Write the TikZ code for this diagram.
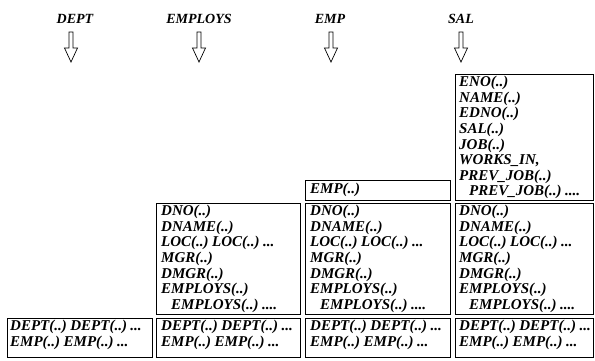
\documentclass[tikz,border=0pt]{standalone}
\usepackage{fontspec}
\setmainfont{Liberation Serif}
\newfontfamily\tf{Liberation Serif}[WordSpace=0.6]
\begin{document}
\begin{tikzpicture}[x=1pt,y=-1pt,
  boxx/.style={draw, line width=0.9pt, anchor=north west, inner sep=0pt},
  txt/.style={anchor=north west, align=left, inner sep=0pt,
    font=\tf\fontsize{15}{15.6}\selectfont\bfseries\itshape},
  lbl/.style={font=\fontsize{14}{16}\selectfont\bfseries\itshape},
  downarrow/.pic={\draw[line width=0.7pt] (-2,0) -- (-2,16) -- (-6.5,16) -- (0,30) -- (6.5,16) -- (2,16) -- (2,0) -- cycle;}
]
\useasboundingbox (0,0) rectangle (595,360);
% labels
\node[lbl] (l1) at (75,19) {DEPT};
\node[lbl] (l2) at (199,19) {EMPLOYS};
\node[lbl] (l3) at (330,19) {EMP};
\node[lbl] (l4) at (461,19) {SAL};
% arrows
\coordinate (a1) at (71,32);
\coordinate (a2) at (199,32);
\coordinate (a3) at (331,32);
\coordinate (a4) at (461,32);
\pic at (a1) {downarrow};
\pic at (a2) {downarrow};
\pic at (a3) {downarrow};
\pic at (a4) {downarrow};
% DEPT column
\node[boxx, minimum width=145pt, minimum height=39pt] (d1) at (7,318) {};
\node[txt] at ([shift={(3,2)}]d1.north west) {DEPT(..) DEPT(..) ...\\EMP(..) EMP(..) ...};
% EMPLOYS column
\node[boxx, minimum width=144pt, minimum height=111pt] (e1) at (156,203) {};
\node[boxx, minimum width=144pt, minimum height=39pt] (e2) at (156,318) {};
\node[txt] at ([shift={(5,2)}]e1.north west) {DNO(..)\\DNAME(..)\\LOC(..) LOC(..) ...\\MGR(..)\\DMGR(..)\\EMPLOYS(..)\\\hspace*{10pt}EMPLOYS(..) ....};
\node[txt] at ([shift={(5,2)}]e2.north west) {DEPT(..) DEPT(..) ...\\EMP(..) EMP(..) ...};
% EMP column
\node[boxx, minimum width=145pt, minimum height=20pt] (m0) at (305,180) {};
\node[boxx, minimum width=145pt, minimum height=111pt] (m1) at (305,203) {};
\node[boxx, minimum width=145pt, minimum height=39pt] (m2) at (305,318) {};
\node[txt] at ([shift={(5,3)}]m0.north west) {EMP(..)};
\node[txt] at ([shift={(5,2)}]m1.north west) {DNO(..)\\DNAME(..)\\LOC(..) LOC(..) ...\\MGR(..)\\DMGR(..)\\EMPLOYS(..)\\\hspace*{10pt}EMPLOYS(..) ....};
\node[txt] at ([shift={(5,2)}]m2.north west) {DEPT(..) DEPT(..) ...\\EMP(..) EMP(..) ...};
% SAL column
\node[boxx, minimum width=138pt, minimum height=126pt] (s0) at (455,74) {};
\node[boxx, minimum width=138pt, minimum height=111pt] (s1) at (455,203) {};
\node[boxx, minimum width=138pt, minimum height=39pt] (s2) at (455,318) {};
\node[txt] at ([shift={(4,2)}]s0.north west) {ENO(..)\\NAME(..)\\EDNO(..)\\SAL(..)\\JOB(..)\\WORKS\_IN,\\PREV\_JOB(..)\\\hspace*{10pt}PREV\_JOB(..) ....};
\node[txt] at ([shift={(4,2)}]s1.north west) {DNO(..)\\DNAME(..)\\LOC(..) LOC(..) ...\\MGR(..)\\DMGR(..)\\EMPLOYS(..)\\\hspace*{10pt}EMPLOYS(..) ....};
\node[txt] at ([shift={(4,2)}]s2.north west) {DEPT(..) DEPT(..) ...\\EMP(..) EMP(..) ...};
\end{tikzpicture}
\end{document}
